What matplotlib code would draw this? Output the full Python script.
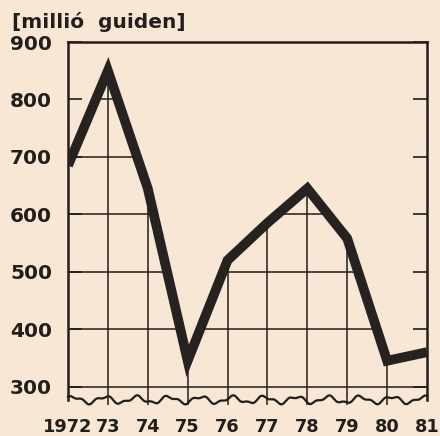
import numpy as np
import matplotlib
matplotlib.use("Agg")
import matplotlib.pyplot as plt
from matplotlib.patches import Polygon

years = [1972, 1973, 1974, 1975, 1976, 1977, 1978, 1979, 1980, 1981]
year_labels = ["1972", "73", "74", "75", "76", "77", "78", "79", "80", "81"]
values = [685, 850, 645, 345, 520, 585, 645, 558, 345, 360]
y_ticks = [300, 400, 500, 600, 700, 800, 900]
unit_label = "[millió  guiden]"

paper = "#f7e7d4"
ink = "#221e1b"

fig = plt.figure(figsize=(4.40, 4.36), dpi=100, facecolor=paper)
ax = fig.add_axes([68/440, 1 - 405/436, (427 - 68)/440, (405 - 42)/436])
ax.set_facecolor(paper)

ymin, ymax = 268, 900
ax.set_xlim(years[0], years[-1])
ax.set_ylim(ymin, ymax)

# clip region: area under the curve
poly_xy = [(years[0], ymin)] + list(zip(years, values)) + [(years[-1], ymin)]
clip = Polygon(poly_xy, closed=True, transform=ax.transData, facecolor="none", edgecolor="none")
ax.add_patch(clip)

# wavy bottom edge (decorative)
xw = np.linspace(years[0], years[-1], 800)
t = xw - years[0]
yw = 277 + 5.5 * np.sin(t * 2 * np.pi * 1.25 + 0.6) + 2.5 * np.sin(t * 2 * np.pi * 2.9 + 1.3)
ax.plot(xw, yw, color=ink, lw=1.6, zorder=3, clip_on=False)

# grid under the curve
for yv in y_ticks[1:-1]:
    ln = ax.plot([years[0], years[-1]], [yv, yv], color=ink, lw=1.1, zorder=2)[0]
    ln.set_clip_path(clip)
ax.plot([years[0], years[-1]], [300, 300], color=ink, lw=1.1, zorder=2)
for xv in years[1:-1]:
    ln = ax.plot([xv, xv], [ymin, ymax], color=ink, lw=1.1, zorder=2)[0]
    ln.set_clip_path(clip)

# data line
ax.plot(years, values, color="#262220", lw=7.0, solid_joinstyle="miter", solid_capstyle="butt", zorder=4)

for side in ["left", "right", "top"]:
    ax.spines[side].set_color(ink)
    ax.spines[side].set_linewidth(1.8)
ax.spines["bottom"].set_visible(False)
ax.spines["left"].set_bounds(277, 900)
ax.spines["right"].set_bounds(277, 900)

ax.set_yticks(y_ticks)
ax.set_yticklabels([str(v) for v in y_ticks], fontsize=14.5, fontweight="heavy", color=ink)
ax.tick_params(axis="y", direction="in", length=10, width=1.2, color=ink, pad=11.5, right=True)
ax.set_xticks(years)
ax.set_xticklabels(year_labels, fontsize=12.8, fontweight="heavy", color=ink)
ax.tick_params(axis="x", length=0, pad=9.5)

fig.text(12/440, 1 - 22/436, unit_label, fontsize=14.5, fontweight="heavy", color=ink, va="center", ha="left")

fig.savefig("out.png", dpi=100, facecolor=paper)
